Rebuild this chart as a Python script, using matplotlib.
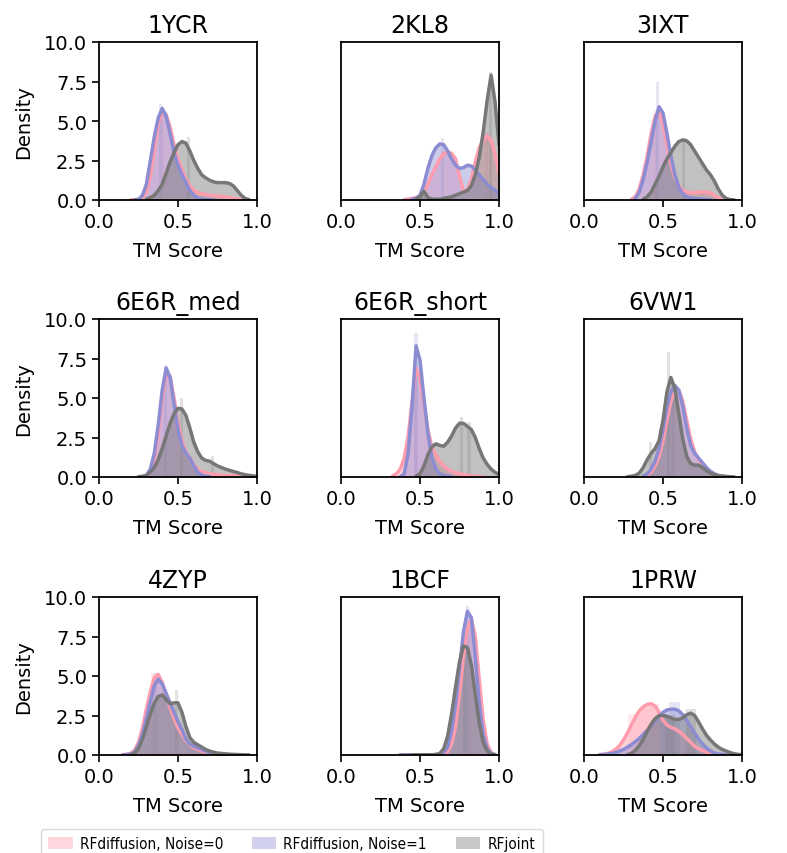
import numpy as np
import matplotlib
matplotlib.use('Agg')
import matplotlib.pyplot as plt
from matplotlib.patches import Patch

nan = np.nan

# TM-score grid the density curves are sampled on
TM_GRID = [0.100, 0.125, 0.150, 0.175, 0.200, 0.225, 0.250, 0.275, 0.300,
           0.325, 0.350, 0.375, 0.400, 0.425, 0.450, 0.475, 0.500, 0.525,
           0.550, 0.575, 0.600, 0.625, 0.650, 0.675, 0.700, 0.725, 0.750,
           0.775, 0.800, 0.825, 0.850, 0.875, 0.900, 0.925, 0.950, 0.975,
           1.000]

TARGETS = ['1YCR', '2KL8', '3IXT', '6E6R_med', '6E6R_short', '6VW1',
           '4ZYP', '1BCF', '1PRW']

# ---- KDE densities per target (RFdiffusion noise 0 / noise 1 / RFjoint)
KDE_1YCR_N0 = [nan, nan, nan, nan, 0.01, 0.02, 0.05, 0.15, 0.5, 1.5, 3.2, 4.8, 5.6, 5.4, 4.6, 3.5, 2.6, 1.9,
               1.3, 0.9, 0.6, 0.45, 0.4, 0.35, 0.3, 0.28, 0.25, 0.22, 0.2, 0.15, 0.1, 0.06, 0.03, 0.01, nan, nan, nan]
KDE_1YCR_N1 = [nan, nan, nan, nan, nan, 0.01, 0.03, 0.3, 1.0, 2.5, 4.0, 5.2, 5.8, 5.3, 4.2, 3.0, 2.2, 1.6,
               1.1, 0.6, 0.3, 0.12, 0.05, 0.03, 0.02, 0.01, nan, nan, nan, nan, nan, nan, nan, nan, nan, nan, nan]
KDE_1YCR_JOINT = [nan, nan, nan, nan, nan, nan, nan, nan, 0.05, 0.15, 0.3, 0.6, 1.0, 1.7, 2.4, 3.0, 3.5, 3.7,
                  3.6, 3.1, 2.5, 2.0, 1.6, 1.4, 1.25, 1.15, 1.1, 1.1, 1.1, 1.05, 0.9, 0.6, 0.3, 0.1, 0.02, nan, nan]

KDE_2KL8_N0 = [nan, nan, nan, nan, nan, nan, nan, nan, nan, nan, nan, nan, 0.02, 0.05, 0.1, 0.15, 0.25, 0.5,
               1.0, 1.6, 2.1, 2.6, 2.95, 3.05, 2.95, 2.6, 1.5, 0.6, 0.6, 1.3, 2.4, 3.3, 3.8, 4.05, 3.8, 2.9, 1.7]
KDE_2KL8_N1 = [nan, nan, nan, nan, nan, nan, nan, nan, nan, nan, nan, nan, nan, nan, 0.05, 0.1, 0.3, 1.0,
               2.0, 2.8, 3.3, 3.55, 3.5, 3.1, 2.6, 2.2, 2.0, 2.05, 2.2, 2.15, 1.9, 1.6, 1.3, 1.0, 0.8, 0.6, 0.4]
KDE_2KL8_JOINT = [nan, nan, nan, nan, nan, nan, nan, nan, nan, nan, nan, nan, nan, nan, nan, 0.05, 0.2, 0.55,
                  0.15, 0.05, 0.05, 0.05, 0.1, 0.15, 0.2, 0.3, 0.4, 0.5, 0.6, 0.9, 1.6, 2.7, 4.3, 6.3, 7.9, 6.2, 3.5]

KDE_3IXT_N0 = [nan, nan, nan, nan, nan, nan, nan, nan, 0.05, 0.2, 0.7, 1.6, 2.8, 4.2, 5.3, 5.6, 4.8, 3.5,
               2.3, 1.4, 0.9, 0.6, 0.5, 0.45, 0.45, 0.5, 0.5, 0.5, 0.45, 0.3, 0.15, 0.05, nan, nan, nan, nan, nan]
KDE_3IXT_N1 = [nan, nan, nan, nan, nan, nan, nan, nan, nan, 0.1, 0.5, 1.3, 2.4, 3.7, 5.0, 5.9, 5.5, 4.2,
               2.8, 1.6, 0.8, 0.4, 0.2, 0.12, 0.1, 0.07, 0.05, 0.03, 0.02, nan, nan, nan, nan, nan, nan, nan, nan]
KDE_3IXT_JOINT = [nan, nan, nan, nan, nan, nan, nan, nan, nan, nan, nan, 0.05, 0.2, 0.5, 1.0, 1.5, 2.1, 2.6,
                  3.0, 3.4, 3.7, 3.8, 3.75, 3.5, 3.1, 2.7, 2.3, 1.9, 1.6, 1.2, 0.7, 0.3, 0.1, 0.03, 0.01, nan, nan]

KDE_6E6R_MED_N0 = [nan, nan, nan, nan, nan, nan, nan, nan, 0.05, 0.3, 1.1, 2.8, 5.0, 6.5, 6.4, 5.0, 3.4, 2.3,
                   1.6, 1.2, 0.8, 0.5, 0.35, 0.28, 0.2, 0.17, 0.15, 0.12, 0.1, 0.09, 0.08, 0.06, 0.05, 0.03, 0.02, nan, nan]
KDE_6E6R_MED_N1 = [nan, nan, nan, nan, nan, nan, nan, nan, 0.1, 0.5, 1.5, 3.3, 5.5, 6.9, 6.3, 4.6, 3.0, 2.0,
                   1.5, 1.2, 0.7, 0.3, 0.1, 0.05, 0.02, nan, nan, nan, nan, nan, nan, nan, nan, nan, nan, nan, nan]
KDE_6E6R_MED_JOINT = [nan, nan, nan, nan, nan, nan, 0.02, 0.05, 0.1, 0.3, 0.6, 1.1, 1.8, 2.6, 3.4, 4.0, 4.35, 4.3,
                      3.9, 3.1, 2.2, 1.6, 1.2, 1.05, 1.0, 0.85, 0.7, 0.6, 0.5, 0.42, 0.35, 0.28, 0.2, 0.15, 0.1, 0.07, 0.05]

KDE_6E6R_SHORT_N0 = [nan, nan, nan, nan, nan, nan, nan, nan, nan, 0.05, 0.2, 0.5, 1.2, 2.6, 4.8, 6.9, 6.3, 4.6,
                     3.0, 1.9, 1.4, 1.0, 0.7, 0.5, 0.35, 0.27, 0.2, 0.15, 0.1, 0.07, 0.05, 0.03, 0.02, nan, nan, nan, nan]
KDE_6E6R_SHORT_N1 = [nan, nan, nan, nan, nan, nan, nan, nan, nan, nan, nan, 0.02, 0.2, 1.5, 4.5, 8.3, 7.4, 5.0,
                     2.8, 1.2, 0.5, 0.2, 0.1, 0.05, 0.02, nan, nan, nan, nan, nan, nan, nan, nan, nan, nan, nan, nan]
KDE_6E6R_SHORT_JOINT = [nan, nan, nan, nan, nan, nan, nan, nan, nan, nan, nan, nan, nan, nan, nan, 0.05, 0.2, 0.7,
                        1.4, 1.9, 2.1, 2.0, 1.95, 2.2, 2.6, 3.1, 3.4, 3.4, 3.2, 3.0, 2.5, 1.8, 1.2, 0.8, 0.5, 0.3, 0.15]

KDE_6VW1_N0 = [nan, nan, nan, nan, nan, nan, nan, nan, nan, nan, nan, nan, 0.1, 0.3, 0.7, 1.3, 2.3, 3.6,
               4.8, 5.4, 5.5, 4.8, 3.6, 2.4, 1.6, 1.1, 0.8, 0.55, 0.35, 0.2, 0.1, 0.05, 0.03, nan, nan, nan, nan]
KDE_6VW1_N1 = [nan, nan, nan, nan, nan, nan, nan, nan, nan, nan, nan, 0.05, 0.2, 0.5, 1.0, 1.8, 3.0, 4.4,
               5.4, 5.8, 5.5, 4.5, 3.1, 2.0, 1.5, 1.2, 0.9, 0.6, 0.35, 0.2, 0.1, 0.05, 0.03, nan, nan, nan, nan]
KDE_6VW1_JOINT = [nan, nan, nan, nan, nan, nan, nan, 0.02, 0.05, 0.1, 0.25, 0.6, 1.1, 1.5, 1.8, 2.3, 3.6, 5.4,
                  6.3, 5.6, 4.0, 2.4, 1.3, 0.85, 0.75, 0.75, 0.6, 0.4, 0.25, 0.15, 0.08, 0.05, 0.03, 0.02, 0.01, nan, nan]

KDE_4ZYP_N0 = [nan, nan, 0.02, 0.05, 0.1, 0.3, 0.8, 1.7, 2.9, 4.0, 4.9, 5.1, 4.6, 3.8, 3.0, 2.3, 1.7, 1.3,
               0.9, 0.65, 0.45, 0.35, 0.25, 0.2, 0.15, 0.1, 0.08, 0.05, 0.04, 0.03, 0.02, nan, nan, nan, nan, nan, nan]
KDE_4ZYP_N1 = [nan, nan, 0.01, 0.02, 0.05, 0.2, 0.6, 1.3, 2.3, 3.4, 4.4, 4.8, 4.5, 3.9, 3.3, 2.7, 2.1, 1.6,
               1.0, 0.7, 0.55, 0.45, 0.35, 0.25, 0.15, 0.1, 0.08, 0.05, 0.03, 0.02, 0.01, nan, nan, nan, nan, nan, nan]
KDE_4ZYP_JOINT = [nan, nan, nan, nan, 0.02, 0.1, 0.4, 1.0, 1.8, 2.6, 3.3, 3.7, 3.8, 3.5, 3.25, 3.3, 3.3, 2.7,
                  1.8, 1.1, 0.8, 0.65, 0.5, 0.35, 0.25, 0.18, 0.12, 0.1, 0.07, 0.05, 0.04, 0.03, 0.02, 0.01, 0.01, nan, nan]

KDE_1BCF_N0 = [nan, nan, nan, nan, nan, nan, nan, nan, nan, nan, nan, 0.01, 0.01, 0.01, 0.01, 0.01, 0.01, 0.01,
               0.02, 0.02, 0.03, 0.04, 0.05, 0.2, 0.7, 1.8, 3.8, 6.2, 8.0, 8.6, 7.5, 4.8, 2.2, 0.7, 0.15, 0.03, nan]
KDE_1BCF_N1 = [nan, nan, nan, nan, nan, nan, nan, nan, nan, nan, nan, 0.01, 0.01, 0.01, 0.01, 0.01, 0.01, 0.01,
               0.01, 0.02, 0.02, 0.05, 0.15, 0.5, 1.5, 3.2, 5.5, 7.8, 9.1, 8.7, 6.2, 3.3, 1.3, 0.4, 0.1, 0.02, nan]
KDE_1BCF_JOINT = [nan, nan, nan, nan, nan, nan, nan, nan, nan, nan, nan, nan, nan, nan, 0.01, 0.01, 0.01, 0.01,
                  0.01, 0.01, 0.03, 0.1, 0.4, 1.2, 2.6, 4.3, 5.9, 6.9, 6.8, 5.7, 3.8, 2.0, 0.8, 0.25, 0.05, 0.01, nan]

KDE_1PRW_N0 = [0.02, 0.05, 0.1, 0.2, 0.35, 0.6, 0.95, 1.4, 1.9, 2.4, 2.8, 3.05, 3.2, 3.25, 3.1, 2.7, 2.2, 1.9,
               1.75, 1.65, 1.5, 1.3, 1.05, 0.8, 0.55, 0.4, 0.28, 0.18, 0.1, 0.06, 0.04, 0.02, 0.01, nan, nan, nan, nan]
KDE_1PRW_N1 = [0.02, 0.03, 0.05, 0.1, 0.15, 0.25, 0.35, 0.5, 0.65, 0.85, 1.05, 1.3, 1.55, 1.85, 2.15, 2.45, 2.7, 2.85,
               2.9, 2.9, 2.8, 2.55, 2.2, 1.8, 1.4, 1.0, 0.7, 0.45, 0.25, 0.13, 0.06, 0.03, 0.02, nan, nan, nan, nan]
KDE_1PRW_JOINT = [nan, nan, nan, nan, nan, nan, nan, 0.02, 0.1, 0.3, 0.6, 1.0, 1.5, 1.95, 2.3, 2.5, 2.5, 2.45,
                  2.35, 2.25, 2.25, 2.35, 2.55, 2.65, 2.5, 2.1, 1.65, 1.25, 0.95, 0.7, 0.5, 0.35, 0.25, 0.15, 0.08, 0.04, 0.02]

# ---- histogram bars standing out above the KDE: (bin left edge, density)
HIST_WIDTH = [0.02, 0.02, 0.02, 0.02, 0.02, 0.02, 0.02, 0.02, 0.065]

HIST_1YCR_N0 = [(0.39, 5.9)]
HIST_1YCR_N1 = [(0.38, 6.1)]
HIST_1YCR_JOINT = [(0.555, 4.0)]
HIST_2KL8_N0 = [(0.91, 4.3)]
HIST_2KL8_N1 = [(0.63, 3.9)]
HIST_2KL8_JOINT = [(0.935, 8.1)]
HIST_3IXT_N0 = [(0.445, 5.7)]
HIST_3IXT_N1 = [(0.455, 7.5)]
HIST_3IXT_JOINT = [(0.62, 3.9)]
HIST_6E6R_MED_N0 = []
HIST_6E6R_MED_N1 = [(0.41, 7.1)]
HIST_6E6R_MED_JOINT = [(0.51, 5.0), (0.71, 1.3)]
HIST_6E6R_SHORT_N0 = [(0.46, 7.0)]
HIST_6E6R_SHORT_N1 = [(0.465, 9.1)]
HIST_6E6R_SHORT_JOINT = [(0.75, 3.8), (0.80, 3.5)]
HIST_6VW1_N0 = [(0.56, 5.5)]
HIST_6VW1_N1 = [(0.55, 5.9)]
HIST_6VW1_JOINT = [(0.525, 7.9), (0.41, 2.2)]
HIST_4ZYP_N0 = [(0.33, 5.2)]
HIST_4ZYP_N1 = [(0.35, 5.2)]
HIST_4ZYP_JOINT = [(0.48, 4.1)]
HIST_1BCF_N0 = [(0.81, 8.7)]
HIST_1BCF_N1 = [(0.79, 9.4)]
HIST_1BCF_JOINT = [(0.77, 7.0)]
HIST_1PRW_N0 = [(0.28, 2.6), (0.345, 3.0), (0.41, 3.2)]
HIST_1PRW_N1 = [(0.475, 2.5), (0.54, 3.35)]
HIST_1PRW_JOINT = [(0.51, 2.55), (0.645, 2.9)]

KDE_N0 = [KDE_1YCR_N0, KDE_2KL8_N0, KDE_3IXT_N0, KDE_6E6R_MED_N0, KDE_6E6R_SHORT_N0,
          KDE_6VW1_N0, KDE_4ZYP_N0, KDE_1BCF_N0, KDE_1PRW_N0]
KDE_N1 = [KDE_1YCR_N1, KDE_2KL8_N1, KDE_3IXT_N1, KDE_6E6R_MED_N1, KDE_6E6R_SHORT_N1,
          KDE_6VW1_N1, KDE_4ZYP_N1, KDE_1BCF_N1, KDE_1PRW_N1]
KDE_JOINT = [KDE_1YCR_JOINT, KDE_2KL8_JOINT, KDE_3IXT_JOINT, KDE_6E6R_MED_JOINT, KDE_6E6R_SHORT_JOINT,
             KDE_6VW1_JOINT, KDE_4ZYP_JOINT, KDE_1BCF_JOINT, KDE_1PRW_JOINT]
HIST_N0 = [HIST_1YCR_N0, HIST_2KL8_N0, HIST_3IXT_N0, HIST_6E6R_MED_N0, HIST_6E6R_SHORT_N0,
           HIST_6VW1_N0, HIST_4ZYP_N0, HIST_1BCF_N0, HIST_1PRW_N0]
HIST_N1 = [HIST_1YCR_N1, HIST_2KL8_N1, HIST_3IXT_N1, HIST_6E6R_MED_N1, HIST_6E6R_SHORT_N1,
           HIST_6VW1_N1, HIST_4ZYP_N1, HIST_1BCF_N1, HIST_1PRW_N1]
HIST_JOINT = [HIST_1YCR_JOINT, HIST_2KL8_JOINT, HIST_3IXT_JOINT, HIST_6E6R_MED_JOINT, HIST_6E6R_SHORT_JOINT,
              HIST_6VW1_JOINT, HIST_4ZYP_JOINT, HIST_1BCF_JOINT, HIST_1PRW_JOINT]

SERIES_LABELS = ['RFdiffusion, Noise=0', 'RFdiffusion, Noise=1', 'RFjoint']
C_N0 = '#ff9cae'
C_N1 = '#8c8cd2'
C_JOINT = '#777777'

fig = plt.figure(figsize=(7.87, 8.54), dpi=100)
W, H = 787.0, 854.0
col_left = [99, 341, 584]
row_top = [43, 320, 598]
ax_w, ax_h = 158, 158

x = np.array(TM_GRID)
for i, name in enumerate(TARGETS):
    r, c = divmod(i, 3)
    ax = fig.add_axes([col_left[c] / W, 1 - (row_top[r] + ax_h) / H, ax_w / W, ax_h / H])
    series = [(KDE_N0[i], HIST_N0[i], C_N0),
              (KDE_N1[i], HIST_N1[i], C_N1),
              (KDE_JOINT[i], HIST_JOINT[i], C_JOINT)]
    for kde, bars, col in series:
        y = np.array(kde, dtype=float)
        for left, h in bars:
            ax.bar(left, h, width=HIST_WIDTH[i], align='edge', color=col, alpha=0.22, linewidth=0)
        ax.fill_between(x, 0, y, where=~np.isnan(y), color=col, alpha=0.45, linewidth=0)
        ax.plot(x, y, color=col, lw=2.5, solid_capstyle='round', solid_joinstyle='round')

    ax.set_xlim(0, 1)
    ax.set_ylim(0, 10)
    ax.set_xticks([0.0, 0.5, 1.0])
    ax.set_xticklabels(['0.0', '0.5', '1.0'])
    ax.set_title(name, fontsize=17, pad=7)
    ax.set_xlabel('TM Score', fontsize=14, labelpad=7)
    ax.tick_params(axis='both', labelsize=14, length=5, width=1.2)
    for sp in ax.spines.values():
        sp.set_linewidth(1.3)
    if c == 0:
        ax.set_yticks([0, 2.5, 5.0, 7.5, 10.0])
        ax.set_yticklabels(['0.0', '2.5', '5.0', '7.5', '10.0'])
        ax.set_ylabel('Density', fontsize=14, labelpad=8)
    else:
        ax.set_yticks([])

handles = [Patch(facecolor=C_N0, alpha=0.4), Patch(facecolor=C_N1, alpha=0.4),
           Patch(facecolor=C_JOINT, alpha=0.4)]
fig.legend(handles, SERIES_LABELS, loc='upper left', bbox_to_anchor=(33 / W, 1 - 822 / H),
           ncol=3, prop={'family': 'DejaVu Sans', 'stretch': 'condensed', 'size': 11},
           handlelength=1.6, handleheight=0.9, handletextpad=0.45, columnspacing=1.9,
           borderpad=0.5, frameon=True, edgecolor='#d0d0d0')

fig.savefig('out.png', dpi=100)
